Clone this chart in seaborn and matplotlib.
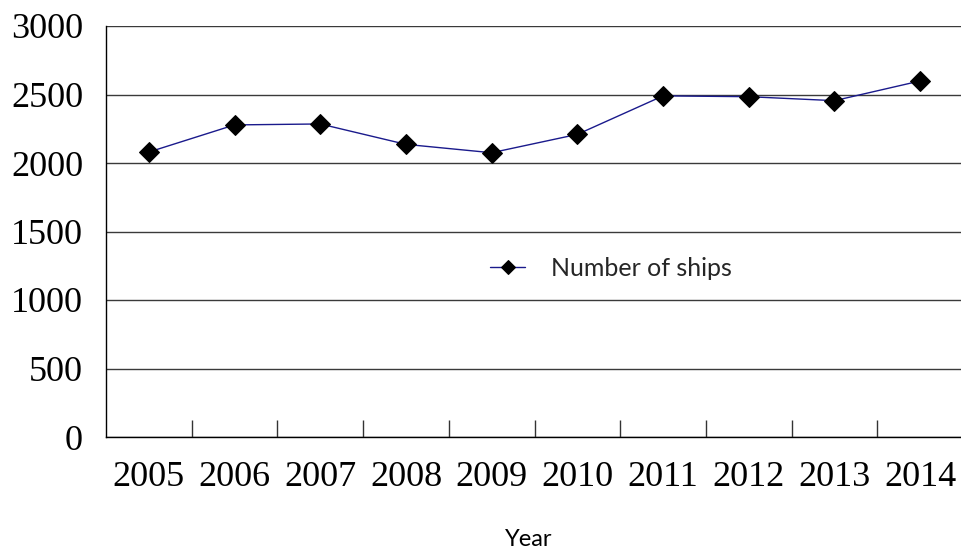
import matplotlib
matplotlib.use("Agg")
import matplotlib.pyplot as plt
import seaborn as sns
import pandas as pd
from matplotlib.ticker import FixedLocator

years = ["2005", "2006", "2007", "2008", "2009", "2010", "2011", "2012", "2013", "2014"]
ships = [2080, 2278, 2285, 2136, 2075, 2209, 2490, 2484, 2455, 2599]
y_ticks = [0, 500, 1000, 1500, 2000, 2500, 3000]
series_label = "Number of ships"
x_title = "Year"

sns.set_theme(style="white")
plt.rcParams["font.family"] = ["Liberation Serif", "DejaVu Serif"]

df = pd.DataFrame({"pos": list(range(len(years))), "ships": ships})

fig = plt.figure(figsize=(9.61, 5.54), dpi=100)
ax = fig.add_axes([106 / 961, 117 / 554, 857 / 961, 411 / 554])

sns.lineplot(data=df, x="pos", y="ships", ax=ax, color="#1a1a8c", linewidth=1.0,
             marker="D", markersize=10, markerfacecolor="black",
             markeredgecolor="black", label=series_label)

ax.set_xlim(-0.5, len(years) - 0.5)
ax.set_ylim(0, 3000)
ax.set_yticks(y_ticks)
ax.set_yticklabels([str(v) for v in y_ticks])
ax.set_xticks(list(range(len(years))))
ax.set_xticklabels(years)
ax.xaxis.set_minor_locator(FixedLocator([i + 0.5 for i in range(len(years) - 1)]))
ax.tick_params(axis="x", which="major", length=0, pad=17, labelsize=26, labelcolor="black")
ax.tick_params(axis="x", which="minor", length=12, width=1, direction="in", color="#333333", bottom=True)
ax.tick_params(axis="y", which="major", length=0, pad=16.5, labelsize=26, labelcolor="black")

ax.yaxis.grid(True, color="#3a3a3a", linewidth=1.0)
ax.xaxis.grid(False)
ax.set_axisbelow(True)
for side in ["top", "right"]:
    ax.spines[side].set_visible(False)
ax.spines["left"].set_color("black")
ax.spines["left"].set_linewidth(1.0)
ax.spines["bottom"].set_color("black")
ax.spines["bottom"].set_linewidth(1.0)
ax.set_xlabel("")
ax.set_ylabel("")

leg = ax.legend(loc="center left", bbox_to_anchor=(384 / 857, (437 - 268) / 411),
                frameon=False, handlelength=1.4, handletextpad=1.05,
                prop={"family": "Lato", "size": 18}, borderaxespad=0, borderpad=0)
for h in leg.legend_handles:
    h.set_markersize(7)

fig.text(529 / 961, 1 - 540 / 554, x_title, ha="center", va="center",
         family="Lato", fontsize=17, color="black")

fig.savefig("out.png", dpi=100)
